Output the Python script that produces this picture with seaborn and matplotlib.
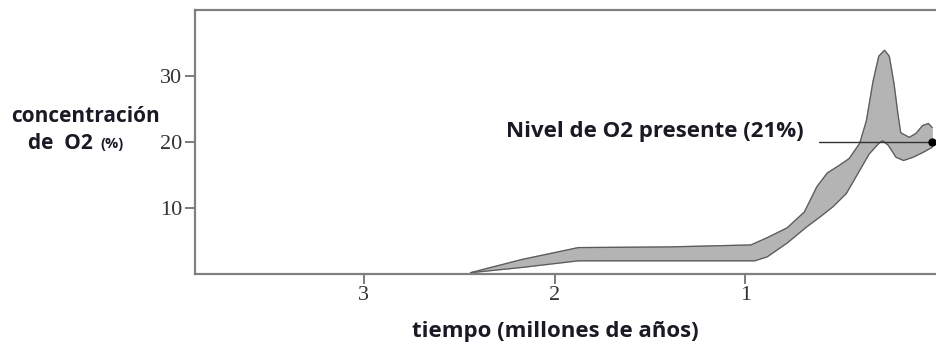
import numpy as np
import seaborn as sns
import matplotlib.pyplot as plt

# banda de O2 (tiempo en miles de millones de años, concentración en %)
t_upper = [2.44, 2.17, 1.875, 1.40, 0.97, 0.885, 0.78, 0.69, 0.625, 0.57, 0.505,
           0.455, 0.40, 0.365, 0.33, 0.30, 0.27, 0.245, 0.22, 0.20, 0.185, 0.14,
           0.105, 0.07, 0.04, 0.02]
o2_upper = [0.2, 2.2, 4.0, 4.1, 4.4, 5.5, 7.0, 9.4, 13.2, 15.3, 16.5,
            17.5, 19.8, 23.2, 29.2, 33.0, 33.9, 33.0, 28.8, 24.3, 21.4, 20.7,
            21.3, 22.5, 22.8, 22.2]
t_lower = [2.44, 2.17, 1.875, 1.40, 0.95, 0.885, 0.78, 0.68, 0.61, 0.54, 0.47,
           0.40, 0.35, 0.30, 0.28, 0.25, 0.21, 0.17, 0.12, 0.07, 0.02]
o2_lower = [0.2, 1.0, 2.0, 2.0, 2.0, 2.6, 4.7, 7.1, 8.6, 10.2, 12.2,
            15.7, 18.2, 19.8, 20.2, 19.5, 17.7, 17.2, 17.7, 18.4, 19.2]

nivel_t = [0.615, 0.02]
nivel_o2 = [20, 20]

x_ticks = [3, 2, 1]
y_ticks = [10, 20, 30]

sns.set_style('white')
plt.rcParams['font.family'] = ['DejaVu Sans']

fig = plt.figure(figsize=(9.36, 3.49), dpi=100)
ax = fig.add_axes([0.2083, 0.2149, 0.7917, 0.7564])

poly_x = np.r_[t_upper, t_lower[::-1]]
poly_y = np.r_[o2_upper, o2_lower[::-1]]
ax.fill(poly_x, poly_y, color='#b4b4b4', zorder=1)
for tx, oy in [(t_upper, o2_upper), (t_lower, o2_lower)]:
    sns.lineplot(x=tx, y=oy, sort=False, color='#5a5a5a', lw=0.9, ax=ax, zorder=2,
                 solid_joinstyle='round')

sns.lineplot(x=nivel_t, y=nivel_o2, sort=False, color='#333333', lw=1.0, ax=ax, zorder=3)
ax.plot(nivel_t[-1], nivel_o2[-1], 'o', color='black', ms=5, zorder=4, clip_on=False)

ax.set_xlim(3.885, 0.0)
ax.set_ylim(0, 40)
ax.set_xticks(x_ticks)
ax.set_yticks(y_ticks)
ax.set_xticklabels([str(v) for v in x_ticks], family='Liberation Serif', fontsize=16, color='#333333')
ax.set_yticklabels([str(v) for v in y_ticks], family='Liberation Serif', fontsize=16, color='#333333')
ax.tick_params(axis='both', direction='out', length=7, width=1.2, color='#666666', pad=2,
               bottom=True, left=True)

for side in ['left', 'bottom', 'top']:
    ax.spines[side].set_color('#808080')
    ax.spines[side].set_linewidth(1.6)
ax.spines['right'].set_visible(False)

txt = dict(family='Open Sans', weight='bold', color='#1a1a24')
fig.text(85 / 936, 1 - 117 / 349, 'concentración', ha='center', va='center', fontsize=15, **txt)
fig.text(28 / 936, 1 - 143 / 349, 'de  O2', ha='left', va='center', fontsize=15, **txt)
fig.text(100 / 936, 1 - 144 / 349, '(%)', ha='left', va='center', fontsize=10.5, **txt)
fig.text(555 / 936, 1 - 331 / 349, 'tiempo (millones de años)', ha='center', va='center', fontsize=16, **txt)
fig.text(804 / 936, 1 - 131 / 349, 'Nivel de O2 presente (21%)', ha='right', va='center', fontsize=16, **txt)

fig.savefig('out.png', dpi=100)
